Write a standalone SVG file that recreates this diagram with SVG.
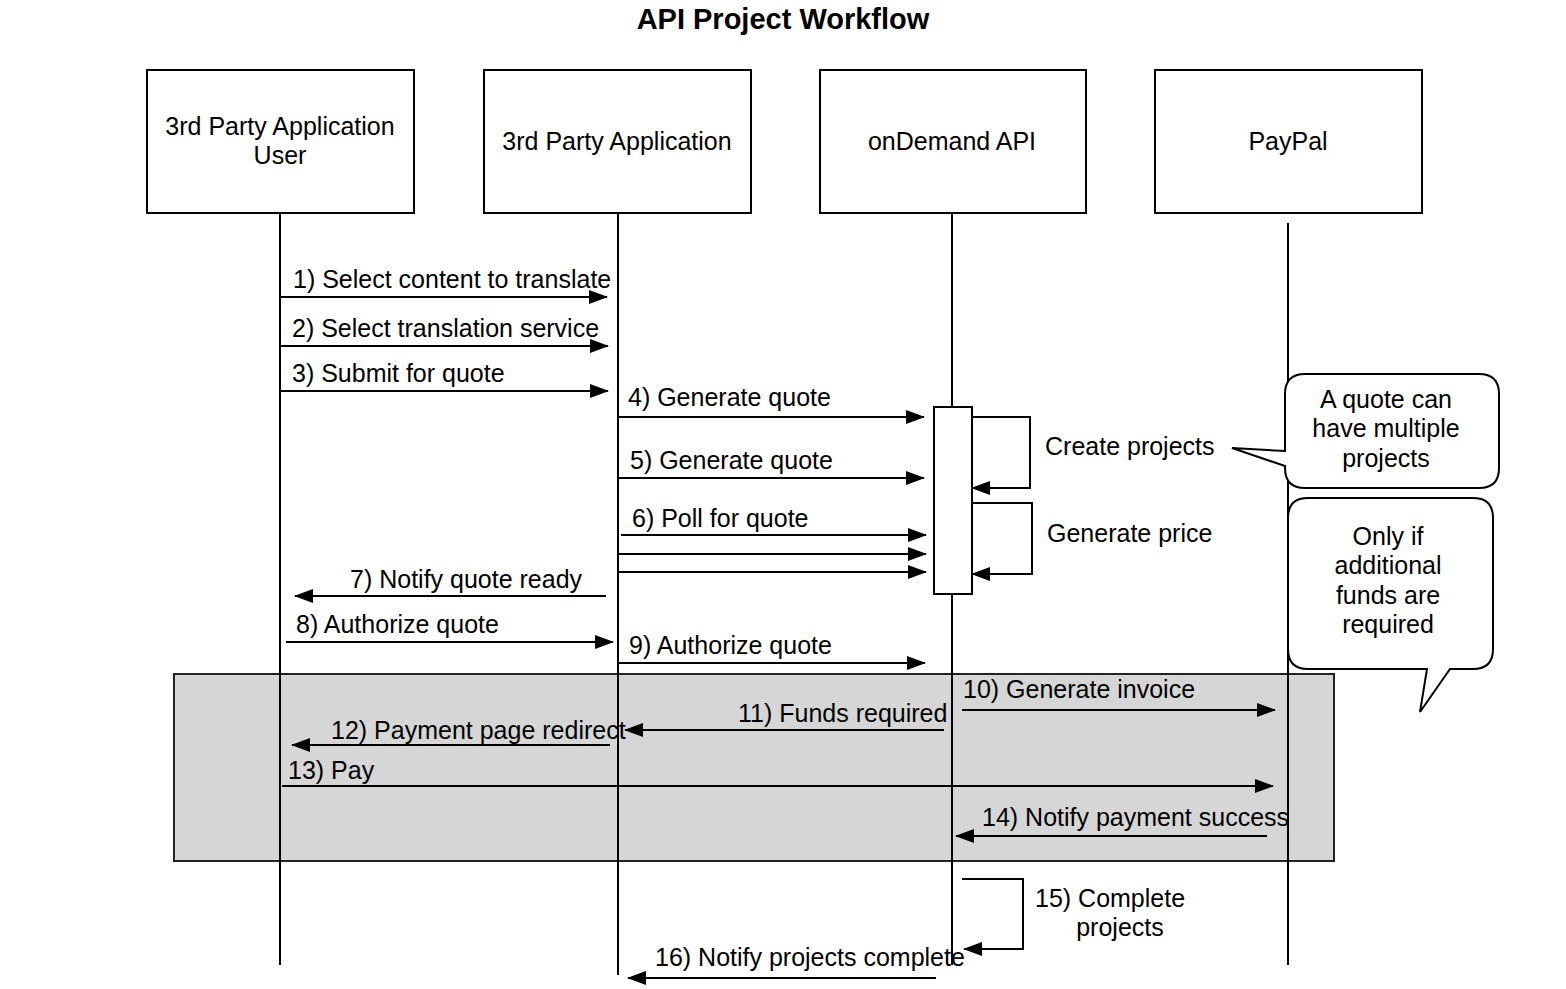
<svg xmlns="http://www.w3.org/2000/svg" width="1566" height="989" viewBox="0 0 1566 989">
<style>
text{font-family:"Liberation Sans",Arial,Helvetica,sans-serif;font-size:25px;fill:#000}
.title{font-size:29px;font-weight:bold}
.box{fill:#fff;stroke:#000;stroke-width:2}
.life{stroke:#000;stroke-width:2;fill:none}
.msg{stroke:#000;stroke-width:2;fill:none;marker-end:url(#ah)}
.loop{stroke:#000;stroke-width:2;fill:none;marker-end:url(#ah)}
.note{fill:#fff;stroke:#000;stroke-width:2}
.mid{text-anchor:middle}
</style>
<defs>
<marker id="ah" viewBox="0 0 19 14" refX="18" refY="7" markerWidth="19" markerHeight="14" markerUnits="userSpaceOnUse" orient="auto">
<path d="M0,0 L19,7 L0,14 z" fill="#000"/>
</marker>
</defs>
<rect width="1566" height="989" fill="#fff"/>
<text class="title mid" x="783" y="29">API Project Workflow</text>

<g id="fragment">
<rect x="174" y="674" width="1160" height="187" fill="#d6d6d6" stroke="#222" stroke-width="2"/>
</g>

<g id="lifelines">
<line class="life" x1="280" y1="213" x2="280" y2="965"/>
<line class="life" x1="618" y1="213" x2="618" y2="975"/>
<line class="life" x1="952" y1="213" x2="952" y2="965"/>
<line class="life" x1="1288" y1="223" x2="1288" y2="965"/>
</g>

<g id="user">
<rect class="box" x="147" y="70" width="267" height="143"/>
<text class="mid" x="280" y="135">3rd Party Application</text>
<text class="mid" x="280" y="164">User</text>
</g>
<g id="app">
<rect class="box" x="484" y="70" width="267" height="143"/>
<text class="mid" x="617" y="150">3rd Party Application</text>
</g>
<g id="api">
<rect class="box" x="820" y="70" width="266" height="143"/>
<text class="mid" x="952" y="150">onDemand API</text>
</g>
<g id="paypal">
<rect class="box" x="1155" y="70" width="267" height="143"/>
<text class="mid" x="1288" y="150">PayPal</text>
</g>

<g id="activation">
<rect class="box" x="934" y="407" width="38" height="187"/>
</g>

<g id="note-projects">
<path class="note" d="M1305,374 H1479 Q1499,374 1499,394 V468 Q1499,488 1479,488 H1305 Q1285,488 1285,468 V466 L1232,448 L1285,451 V394 Q1285,374 1305,374 Z"/>
<text class="mid" x="1386" y="408">A quote can</text>
<text class="mid" x="1386" y="437">have multiple</text>
<text class="mid" x="1386" y="467">projects</text>
</g>
<g id="note-funds">
<path class="note" d="M1308,498 H1473 Q1493,498 1493,518 V649 Q1493,669 1473,669 H1450 L1420,712 L1427,669 H1308 Q1288,669 1288,649 V518 Q1288,498 1308,498 Z"/>
<text class="mid" x="1388" y="545">Only if</text>
<text class="mid" x="1388" y="574">additional</text>
<text class="mid" x="1388" y="604">funds are</text>
<text class="mid" x="1388" y="633">required</text>
</g>

<g id="connectors">
<line class="msg" x1="280" y1="297" x2="607" y2="297"/>
<text x="293" y="288">1) Select content to translate</text>
<line class="msg" x1="280" y1="346" x2="608" y2="346"/>
<text x="292" y="337">2) Select translation service</text>
<line class="msg" x1="280" y1="391" x2="608" y2="391"/>
<text x="292" y="382">3) Submit for quote</text>
<line class="msg" x1="618" y1="417" x2="924" y2="417"/>
<text x="628" y="406">4) Generate quote</text>
<line class="msg" x1="618" y1="478" x2="924" y2="478"/>
<text x="630" y="469">5) Generate quote</text>
<line class="msg" x1="621" y1="535" x2="926" y2="535"/>
<text x="632" y="527">6) Poll for quote</text>
<line class="msg" x1="618" y1="554" x2="926" y2="554"/>
<line class="msg" x1="618" y1="572" x2="926" y2="572"/>
<line class="msg" x1="606" y1="596" x2="295" y2="596"/>
<text x="350" y="588">7) Notify quote ready</text>
<line class="msg" x1="286" y1="642" x2="613" y2="642"/>
<text x="296" y="633">8) Authorize quote</text>
<line class="msg" x1="618" y1="663" x2="925" y2="663"/>
<text x="629" y="654">9) Authorize quote</text>

<path class="loop" d="M972,417 H1030 V488 H972"/>
<text x="1045" y="455">Create projects</text>
<path class="loop" d="M972,503 H1032 V574 H972"/>
<text x="1047" y="542">Generate price</text>

<line class="msg" x1="962" y1="710" x2="1275" y2="710"/>
<text x="963" y="698">10) Generate invoice</text>
<line class="msg" x1="944" y1="730" x2="625" y2="730"/>
<text x="738" y="722">11) Funds required</text>
<line class="msg" x1="610" y1="745" x2="292" y2="745"/>
<text x="331" y="739">12) Payment page redirect</text>
<line class="msg" x1="282" y1="786" x2="1273" y2="786"/>
<text x="288" y="779">13) Pay</text>
<line class="msg" x1="1267" y1="836" x2="956" y2="836"/>
<text x="982" y="826">14) Notify payment success</text>

<path class="loop" d="M962,879 H1023 V949 H964"/>
<text x="1035" y="907">15) Complete</text>
<text class="mid" x="1120" y="936">projects</text>
<line class="msg" x1="936" y1="978" x2="628" y2="978"/>
<text x="655" y="966">16) Notify projects complete</text>
</g>
</svg>
